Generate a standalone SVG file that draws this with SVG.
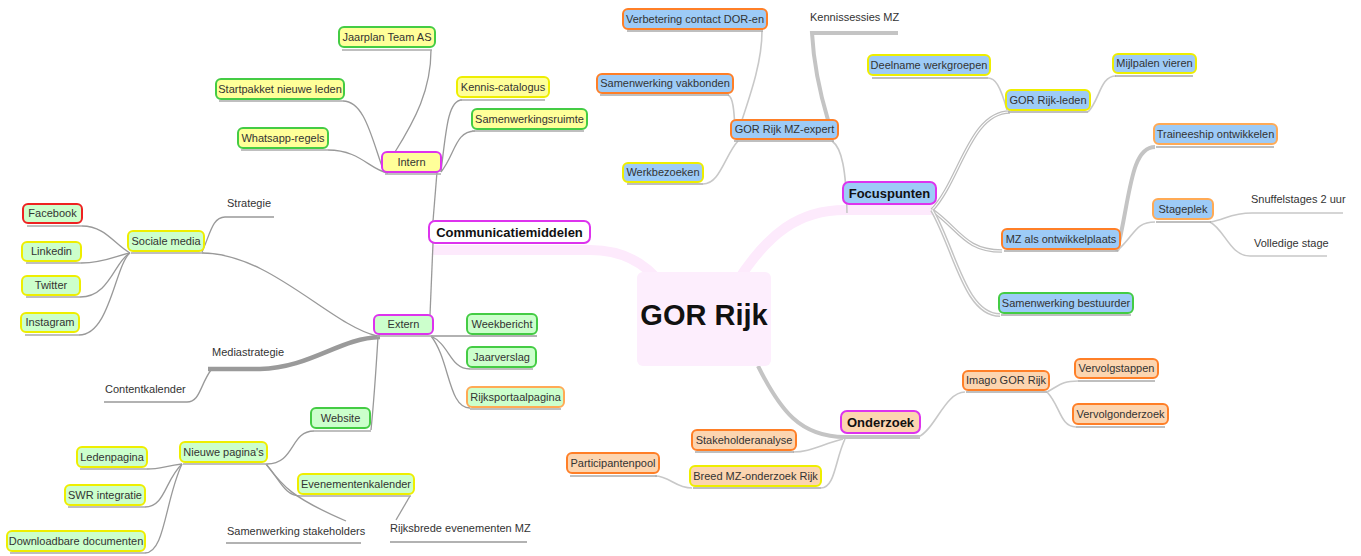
<svg xmlns="http://www.w3.org/2000/svg" width="1361" height="556" viewBox="0 0 1361 556">
<style>
text{font-family:"Liberation Sans",Arial,sans-serif;font-size:11px;fill:#333}
.b{font-weight:bold;font-size:13px;fill:#111}
.n{stroke-width:2}
.y{fill:#ffff99}.g{fill:#ccffcc}.u{fill:#9dcbf7}.p{fill:#fcd5b0}.w{fill:#fff}
.sm{stroke:#dd33ee}.sg{stroke:#44cc44}.sy{stroke:#eeee00}.so{stroke:#ff7f27}.sl{stroke:#ffaa55}.sr{stroke:#ee2222}
.ul{stroke:#aaa;stroke-width:1.5;fill:none}
.c{fill:none;stroke:#999;stroke-width:1.3}
.c2{fill:none;stroke:#c8c8c8;stroke-width:1.6}
.ct{fill:none;stroke:#c4c4c4;stroke-width:4}
.hd{fill:none;stroke:#bdbdbd;stroke-width:3.6}
.hw{fill:none;stroke:#fff;stroke-width:1.1}
.pk{fill:none;stroke:#fdeafc;stroke-width:10}
</style>
<g id="connectors">
<path class="pk" d="M433 250 L590 250 C620 250 645 262 662 285"/>
<path class="pk" d="M735 285 C768 232 800 210 845 210 L932 210"/>
<path class="ct" d="M758 366 C780 410 800 437 845 437 L920 437"/>
<path class="c" d="M395 152 C415 120 431 90 431 50"/>
<path class="c" d="M343 101 C365 101 372 140 384 172"/>
<path class="c" d="M328 150 C360 150 370 170 388 173"/>
<path class="c" d="M441 172 C446 130 448 100 462 100"/>
<path class="c" d="M441 172 C455 155 455 131 475 131"/>
<path class="c" d="M437 172 L433 221"/>
<path class="c" d="M433 243 L430 315"/>
<path class="c" d="M431 336 L537 336"/>
<path class="c" d="M431 336 C450 345 450 369 470 369"/>
<path class="c" d="M431 336 C450 360 448 408 470 408"/>
<path class="c" d="M377 336 C330 325 270 253 202 253"/>
<path class="c" d="M202 252 C210 235 212 217 225 217 L274 217"/>
<path class="c" d="M82 226 C105 226 115 245 130 253"/>
<path class="c" d="M81 263 C105 263 118 255 130 253"/>
<path class="c" d="M80 297 C110 297 115 260 130 253"/>
<path class="c" d="M79 335 C110 335 115 265 130 253"/>
<path fill="none" stroke="#9a9a9a" stroke-width="4.5" d="M380 337 C340 338 310 368 260 369 L208 369"/>
<path class="c" d="M211 370 C200 385 200 402 187 402 L104 402"/>
<path class="c" d="M378 337 C376 370 374 400 371 430"/>
<path class="c" d="M314 431 C290 431 295 464 267 464"/>
<path class="c" d="M182 464 C165 466 160 469 147 469"/>
<path class="c" d="M182 464 C165 480 165 507 145 507"/>
<path class="c" d="M182 464 C165 500 165 553 145 553"/>
<path class="c" d="M266 464 C280 480 285 496 300 496"/>
<path class="c" d="M266 464 C282 485 290 497 346 521"/>
<path class="c" d="M226 543 L361 543"/>
<path class="c" d="M410 496 L396 520"/>
<path class="c" d="M390 542 L527 542"/>
<path class="c2" d="M847 213 C846 170 842 148 832 141"/>
<path class="c2" d="M742 120 C752 90 762 60 762 31"/>
<path class="c2" d="M728 95 C733 97 734 110 735 128"/>
<path class="c2" d="M738 141 C725 155 720 184 703 184"/>
<path fill="none" stroke="#c4c4c4" stroke-width="4" d="M898 33 L812 33 C814 70 822 100 828 120"/>
<path class="hd" d="M932 210 C960 180 970 112 1010 112"/>
<path class="hw" d="M932 210 C960 180 970 112 1010 112"/>
<path class="c2" d="M1007 110 C1000 85 995 78 988 78"/>
<path class="c2" d="M1088 112 C1100 100 1100 76 1116 76"/>
<path class="hd" d="M932 210 C960 230 965 251 1002 251"/>
<path class="hw" d="M932 210 C960 230 965 251 1002 251"/>
<path class="ct" d="M1117 251 C1130 200 1130 147 1155 147"/>
<path class="c2" d="M1117 251 C1135 235 1135 222 1155 222"/>
<path class="c2" d="M1210 222 C1225 220 1230 213 1252 213 L1343 213"/>
<path class="c2" d="M1210 222 C1225 230 1230 256 1250 256 L1327 256"/>
<path class="ct" d="M932 210 C955 250 965 315 1000 315"/>
<path class="hw" d="M932 210 C955 250 965 315 1000 315"/>
<path class="c2" d="M918 437 C935 430 945 392 965 392"/>
<path class="c2" d="M1047 392 C1060 385 1062 381 1078 381"/>
<path class="c2" d="M1047 392 C1060 405 1060 427 1076 427"/>
<path class="c2" d="M843 439 C820 445 810 452 793 452"/>
<path class="c2" d="M845 439 C835 460 835 488 821 488"/>
<path class="c2" d="M692 488 C675 488 670 476 655 476"/>
</g>
<g id="n-center"><rect x="637" y="272" width="134" height="94" rx="6" fill="#fdeefd"/><text x="704" y="325" text-anchor="middle" style="font-size:29px;font-weight:bold;fill:#111">GOR Rijk</text></g>
<g id="n-comm"><rect class="n w sm" x="429" y="221" width="161" height="22" rx="6"/><text class="b" x="509.5" y="237" text-anchor="middle">Communicatiemiddelen</text></g>
<g id="n-focus"><rect class="n u sm" x="843" y="182" width="93" height="22" rx="6"/><text class="b" x="889.5" y="198" text-anchor="middle">Focuspunten</text></g>
<g id="n-onderzoek"><rect class="n p sm" x="841" y="411" width="79" height="22" rx="6"/><text class="b" x="880.5" y="427" text-anchor="middle">Onderzoek</text></g>
<g id="n-jaarplan"><line class="ul" x1="342" y1="50" x2="432" y2="50"/><rect class="n y sg" x="339" y="27" width="96" height="20" rx="5"/><text x="387" y="41" text-anchor="middle">Jaarplan Team AS</text></g>
<g id="n-startpakket"><line class="ul" x1="219" y1="101" x2="343" y2="101"/><rect class="n y sg" x="216" y="79" width="128" height="20" rx="5"/><text x="280" y="93" text-anchor="middle">Startpakket nieuwe leden</text></g>
<g id="n-whatsapp"><line class="ul" x1="241" y1="150" x2="328" y2="150"/><rect class="n y sg" x="238" y="128" width="90" height="20" rx="5"/><text x="283" y="142" text-anchor="middle">Whatsapp-regels</text></g>
<g id="n-intern"><line class="ul" x1="385" y1="174" x2="441" y2="174"/><rect class="n y sm" x="382" y="152" width="59" height="20" rx="5"/><text x="411.5" y="166" text-anchor="middle">Intern</text></g>
<g id="n-kennis"><line class="ul" x1="460" y1="100" x2="545" y2="100"/><rect class="n y sy" x="457" y="77" width="92" height="20" rx="5"/><text x="503" y="91" text-anchor="middle">Kennis-catalogus</text></g>
<g id="n-samenwerkingsruimte"><line class="ul" x1="472" y1="131" x2="584" y2="131"/><rect class="n y sg" x="472" y="109" width="115" height="20" rx="5"/><text x="529.5" y="123" text-anchor="middle">Samenwerkingsruimte</text></g>
<g id="n-extern"><line class="ul" x1="377" y1="336" x2="433" y2="336"/><rect class="n g sm" x="374" y="315" width="59" height="19" rx="5"/><text x="403.5" y="328" text-anchor="middle">Extern</text></g>
<g id="n-weekbericht"><rect class="n g sg" x="467" y="314" width="70" height="20" rx="5"/><text x="502" y="328" text-anchor="middle">Weekbericht</text></g>
<g id="n-jaarverslag"><line class="ul" x1="470" y1="369" x2="533" y2="369"/><rect class="n g sg" x="467" y="347" width="69" height="20" rx="5"/><text x="501.5" y="361" text-anchor="middle">Jaarverslag</text></g>
<g id="n-rijksportaal"><line class="ul" x1="470" y1="409" x2="561" y2="409"/><rect class="n g sl" x="467" y="387" width="97" height="20" rx="5"/><text x="515.5" y="401" text-anchor="middle">Rijksportaalpagina</text></g>
<g id="n-sociale"><line class="ul" x1="131" y1="253" x2="204" y2="253"/><rect class="n g sy" x="128" y="231" width="76" height="20" rx="5"/><text x="166" y="245" text-anchor="middle">Sociale media</text></g>
<g id="n-strategie"><text x="227" y="207">Strategie</text></g>
<g id="n-facebook"><line class="ul" x1="27" y1="226" x2="82" y2="226"/><rect class="n g sr" x="23" y="204" width="59" height="19" rx="5"/><text x="52.5" y="217" text-anchor="middle">Facebook</text></g>
<g id="n-linkedin"><line class="ul" x1="26" y1="263" x2="81" y2="263"/><rect class="n g sy" x="22" y="242" width="59" height="19" rx="5"/><text x="51.5" y="255" text-anchor="middle">Linkedin</text></g>
<g id="n-twitter"><line class="ul" x1="26" y1="297" x2="80" y2="297"/><rect class="n g sy" x="22" y="276" width="58" height="19" rx="5"/><text x="51" y="289" text-anchor="middle">Twitter</text></g>
<g id="n-instagram"><line class="ul" x1="25" y1="335" x2="79" y2="335"/><rect class="n g sy" x="21" y="313" width="58" height="19" rx="5"/><text x="50" y="326" text-anchor="middle">Instagram</text></g>
<g id="n-mediastrategie"><text x="212" y="356">Mediastrategie</text></g>
<g id="n-contentkalender"><text x="105" y="393">Contentkalender</text></g>
<g id="n-website"><line class="ul" x1="314" y1="431" x2="371" y2="431"/><rect class="n g sg" x="311" y="408" width="59" height="20" rx="5"/><text x="340.5" y="422" text-anchor="middle">Website</text></g>
<g id="n-nieuwe"><line class="ul" x1="183" y1="464" x2="267" y2="464"/><rect class="n g sy" x="180" y="442" width="87" height="20" rx="5"/><text x="223.5" y="456" text-anchor="middle">Nieuwe pagina's</text></g>
<g id="n-ledenpagina"><line class="ul" x1="80" y1="469" x2="147" y2="469"/><rect class="n g sy" x="77" y="447" width="70" height="20" rx="5"/><text x="112" y="461" text-anchor="middle">Ledenpagina</text></g>
<g id="n-swr"><line class="ul" x1="68" y1="507" x2="145" y2="507"/><rect class="n g sy" x="65" y="485" width="80" height="20" rx="5"/><text x="105" y="499" text-anchor="middle">SWR integratie</text></g>
<g id="n-downloadbare"><line class="ul" x1="10" y1="553" x2="145" y2="553"/><rect class="n g sy" x="7" y="531" width="138" height="20" rx="5"/><text x="76" y="545" text-anchor="middle">Downloadbare documenten</text></g>
<g id="n-evenementen"><line class="ul" x1="300" y1="496" x2="411" y2="496"/><rect class="n g sy" x="298" y="474" width="116" height="20" rx="5"/><text x="356" y="488" text-anchor="middle">Evenementenkalender</text></g>
<g id="n-stakeholders"><text x="227" y="535">Samenwerking stakeholders</text></g>
<g id="n-rijksbrede"><text x="390" y="532">Rijksbrede evenementen MZ</text></g>
<g id="n-verbetering"><line class="ul" x1="627" y1="31" x2="763" y2="31"/><rect class="n u so" x="623" y="9" width="144" height="20" rx="5"/><text x="695" y="23" text-anchor="middle">Verbetering contact DOR-en</text></g>
<g id="n-vakbonden"><line class="ul" x1="600" y1="95" x2="729" y2="95"/><rect class="n u so" x="597" y="74" width="136" height="19" rx="5"/><text x="665" y="87" text-anchor="middle">Samenwerking vakbonden</text></g>
<g id="n-mzexpert"><line class="ul" x1="734" y1="141" x2="834" y2="141"/><rect class="n u so" x="731" y="120" width="107" height="19" rx="5"/><text x="784.5" y="133" text-anchor="middle">GOR Rijk MZ-expert</text></g>
<g id="n-werkbezoeken"><line class="ul" x1="627" y1="184" x2="703" y2="184"/><rect class="n u sy" x="623" y="163" width="80" height="19" rx="5"/><text x="663" y="176" text-anchor="middle">Werkbezoeken</text></g>
<g id="n-kennissessies"><text x="810" y="21">Kennissessies MZ</text></g>
<g id="n-deelname"><line class="ul" x1="872" y1="78" x2="988" y2="78"/><rect class="n u sy" x="868" y="55" width="122" height="20" rx="5"/><text x="929" y="69" text-anchor="middle">Deelname werkgroepen</text></g>
<g id="n-rijkleden"><line class="ul" x1="1008" y1="112" x2="1088" y2="112"/><rect class="n u sy" x="1006" y="90" width="84" height="20" rx="5"/><text x="1048" y="104" text-anchor="middle">GOR Rijk-leden</text></g>
<g id="n-mijlpalen"><line class="ul" x1="1115" y1="76" x2="1193" y2="76"/><rect class="n u sy" x="1113" y="54" width="83" height="19" rx="5"/><text x="1154.5" y="67" text-anchor="middle">Mijlpalen vieren</text></g>
<g id="n-traineeship"><line class="ul" x1="1156" y1="147" x2="1274" y2="147"/><rect class="n u sl" x="1154" y="124" width="123" height="20" rx="5"/><text x="1215.5" y="138" text-anchor="middle">Traineeship ontwikkelen</text></g>
<g id="n-stageplek"><line class="ul" x1="1156" y1="222" x2="1211" y2="222"/><rect class="n u sl" x="1153" y="199" width="60" height="20" rx="5"/><text x="1183" y="213" text-anchor="middle">Stageplek</text></g>
<g id="n-snuffel"><text x="1251" y="203">Snuffelstages 2 uur</text></g>
<g id="n-volledige"><text x="1254" y="247">Volledige stage</text></g>
<g id="n-mzals"><line class="ul" x1="1004" y1="251" x2="1118" y2="251"/><rect class="n u so" x="1002" y="229" width="118" height="20" rx="5"/><text x="1061" y="243" text-anchor="middle">MZ als ontwikkelplaats</text></g>
<g id="n-bestuurder"><line class="ul" x1="1001" y1="315" x2="1131" y2="315"/><rect class="n u sg" x="999" y="293" width="134" height="20" rx="5"/><text x="1066" y="307" text-anchor="middle">Samenwerking bestuurder</text></g>
<g id="n-imago"><line class="ul" x1="966" y1="392" x2="1047" y2="392"/><rect class="n p so" x="963" y="371" width="86" height="19" rx="5"/><text x="1006" y="384" text-anchor="middle">Imago GOR Rijk</text></g>
<g id="n-vervolgstappen"><line class="ul" x1="1078" y1="381" x2="1155" y2="381"/><rect class="n p so" x="1075" y="359" width="83" height="19" rx="5"/><text x="1116.5" y="372" text-anchor="middle">Vervolgstappen</text></g>
<g id="n-vervolgonderzoek"><line class="ul" x1="1076" y1="427" x2="1165" y2="427"/><rect class="n p so" x="1073" y="404" width="95" height="20" rx="5"/><text x="1120.5" y="418" text-anchor="middle">Vervolgonderzoek</text></g>
<g id="n-stakeholderanalyse"><line class="ul" x1="695" y1="452" x2="794" y2="452"/><rect class="n p so" x="692" y="430" width="104" height="20" rx="5"/><text x="744" y="444" text-anchor="middle">Stakeholderanalyse</text></g>
<g id="n-breed"><line class="ul" x1="693" y1="488" x2="821" y2="488"/><rect class="n p sy" x="690" y="466" width="131" height="20" rx="5"/><text x="755.5" y="480" text-anchor="middle">Breed MZ-onderzoek Rijk</text></g>
<g id="n-participanten"><line class="ul" x1="570" y1="476" x2="657" y2="476"/><rect class="n p so" x="567" y="453" width="92" height="20" rx="5"/><text x="613" y="467" text-anchor="middle">Participantenpool</text></g>
</svg>
